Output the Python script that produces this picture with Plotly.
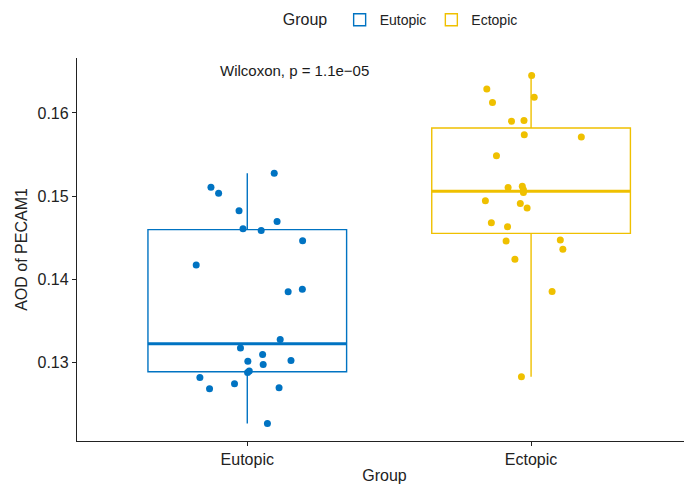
import numpy as np
import plotly.graph_objects as go

groups = ["Eutopic", "Ectopic"]
colors = ["#0073C2", "#EFC000"]

# AOD values, with the horizontal jitter of each dot
eutopic_aod = [0.15275, 0.15107, 0.15035, 0.14823, 0.14695, 0.14608, 0.14587, 0.14464,
               0.14173, 0.13850, 0.13881, 0.13275, 0.13175, 0.13096, 0.13015, 0.12976,
               0.13024, 0.12880, 0.12820, 0.12684, 0.12744, 0.12696, 0.12265, 0.12896]
eutopic_jitter = [0.095, -0.128, -0.101, -0.029, 0.105, -0.015, 0.049, 0.195,
                  -0.180, 0.144, 0.194, 0.116, -0.024, 0.054, 0.002, 0.056,
                  0.154, 0.001, -0.167, -0.133, -0.045, 0.112, 0.071, 0.007]
ectopic_aod = [0.16451, 0.16287, 0.16188, 0.16125, 0.15901, 0.15909, 0.15737, 0.15709,
               0.15485, 0.15102, 0.15119, 0.15075, 0.15042, 0.14943, 0.14911, 0.14856,
               0.14680, 0.14632, 0.14460, 0.14472, 0.14360, 0.14240, 0.13853, 0.12828]
ectopic_jitter = [0.002, -0.156, 0.011, -0.136, -0.069, -0.025, -0.024, 0.177,
                  -0.122, -0.081, -0.031, -0.027, -0.027, -0.161, -0.038, -0.014,
                  -0.140, -0.083, -0.088, 0.103, 0.112, -0.057, 0.074, -0.034]

p_label = "Wilcoxon, p = 1.1e\u221205"

values = [eutopic_aod, ectopic_aod]
jitters = [eutopic_jitter, ectopic_jitter]
box_w = 0.7
font = "Liberation Sans, Arial, sans-serif"

fig = go.Figure()

for i, (name, col) in enumerate(zip(groups, colors)):
    vals = values[i]
    fig.add_trace(go.Box(
        x=[i] * len(vals), y=vals, name=name, width=box_w,
        boxpoints=False, quartilemethod="linear", whiskerwidth=0,
        line=dict(color=col, width=1.4), fillcolor="rgba(255,255,255,0)",
        legendgroup=name, hoverinfo="skip"))
    med = np.percentile(vals, 50)
    fig.add_trace(go.Scatter(
        x=[i - box_w / 2, i + box_w / 2], y=[med, med], mode="lines",
        line=dict(color=col, width=3), showlegend=False, hoverinfo="skip"))
    fig.add_trace(go.Scatter(
        x=[i + j for j in jitters[i]], y=vals, mode="markers",
        marker=dict(color=col, size=7), showlegend=False, legendgroup=name))

fig.add_annotation(x=-0.102, y=0.16511, xref="x", yref="y", text=p_label,
                   showarrow=False, xanchor="left", yanchor="middle",
                   font=dict(size=15, color="#1a1a1a"))

axis_common = dict(showline=True, linecolor="#222", linewidth=1.3, ticks="outside",
                   ticklen=4, tickcolor="#222", showgrid=False, zeroline=False,
                   automargin=False, tickfont=dict(size=16, color="#222"))

# the page body has an 8px margin, so the figure is sized to sit in the window
fig.update_layout(
    width=684, height=477,
    margin=dict(l=69, r=0, t=50, b=44, autoexpand=False),
    plot_bgcolor="white", paper_bgcolor="white",
    font=dict(family=font, color="#222"),
    xaxis=dict(range=[-0.6, 1.567], tickvals=[0, 1], ticktext=groups,
               title=dict(text="Group", font=dict(size=16), standoff=2), **axis_common),
    yaxis=dict(range=[0.12056, 0.1666], tickvals=[0.13, 0.14, 0.15, 0.16],
               ticktext=["0.13", "0.14", "0.15", "0.16"],
               title=dict(text="AOD of PECAM1", font=dict(size=16), standoff=5), **axis_common),
    legend=dict(orientation="h", x=0.528, xanchor="center", y=1.099, yanchor="middle",
                title=dict(text="Group ", font=dict(size=16)), font=dict(size=14)),
)

fig.write_html("out.html")
